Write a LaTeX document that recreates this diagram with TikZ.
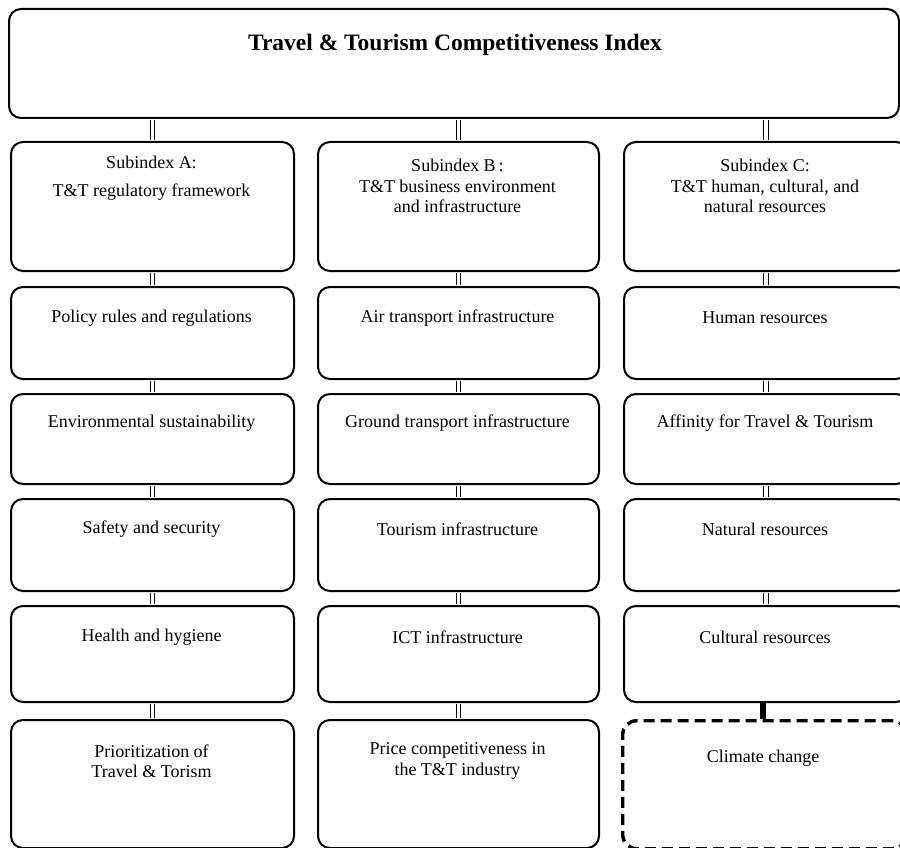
\documentclass[tikz,border=0pt]{standalone}
\usepackage{fontspec}
\setmainfont{Liberation Serif}
\usetikzlibrary{calc}
\begin{document}
\begin{tikzpicture}[x=1pt,y=-1pt,
  box/.style={draw, line width=2pt, rounded corners=12pt, inner sep=0pt, anchor=north west, fill=white},
  dashbox/.style={draw, line width=3.4pt, dash pattern=on 11pt off 6pt, rounded corners=14pt, inner sep=0pt, anchor=north west},
  txt/.style={font=\fontsize{18}{20.5}\selectfont, align=center, inner sep=0pt},
  title/.style={font=\fontsize{23.5}{27}\selectfont\bfseries, inner sep=0pt},
  link/.style={draw=black, line width=5.6pt, postaction={draw=white, line width=3.4pt}},
  solidlink/.style={draw, line width=6pt}]
\useasboundingbox (0,0) rectangle (900,848);
\clip (0,0) rectangle (900,848);
\fill[white] (0,0) rectangle (900,848);

% connectors (drawn first, boxes cover their ends)
\coordinate (topA) at (151.5,117);
\coordinate (topB) at (457.5,117);
\coordinate (topC) at (765,117);

% top box
\node[box, minimum width=890pt, minimum height=109pt] (top) at (8,8) {};
\node[title] (ttop) at (455,45) {Travel \& Tourism Competitiveness Index};

% column A
\node[box, minimum width=283pt, minimum height=129pt] (a1) at (10,141) {};
\node[box, minimum width=283pt, minimum height=92pt]  (a2) at (10,286) {};
\node[box, minimum width=283pt, minimum height=90pt]  (a3) at (10,393) {};
\node[box, minimum width=283pt, minimum height=92pt]  (a4) at (10,498) {};
\node[box, minimum width=283pt, minimum height=96pt]  (a5) at (10,605) {};
\node[box, minimum width=283pt, minimum height=128pt] (a6) at (10,719) {};

% column B
\node[box, minimum width=281pt, minimum height=129pt] (b1) at (317,141) {};
\node[box, minimum width=281pt, minimum height=92pt]  (b2) at (317,286) {};
\node[box, minimum width=281pt, minimum height=90pt]  (b3) at (317,393) {};
\node[box, minimum width=281pt, minimum height=92pt]  (b4) at (317,498) {};
\node[box, minimum width=281pt, minimum height=96pt]  (b5) at (317,605) {};
\node[box, minimum width=281pt, minimum height=128pt] (b6) at (317,719) {};

% column C
\node[box, minimum width=284pt, minimum height=129pt] (c1) at (623,141) {};
\node[box, minimum width=284pt, minimum height=92pt]  (c2) at (623,286) {};
\node[box, minimum width=284pt, minimum height=90pt]  (c3) at (623,393) {};
\node[box, minimum width=284pt, minimum height=92pt]  (c4) at (623,498) {};
\node[box, minimum width=284pt, minimum height=96pt]  (c5) at (623,605) {};
\node[dashbox, minimum width=284pt, minimum height=128pt] (c6) at (621,719) {};

% connectors
\draw[link] ([yshift=-1pt]top.south -| a1.north) -- ([yshift=1pt]a1.north);
\draw[link] ([yshift=-1pt]top.south -| b1.north) -- ([yshift=1pt]b1.north);
\draw[link] ([yshift=-1pt]top.south -| c1.north) -- ([yshift=1pt]c1.north);
\foreach \col in {a,b}{
  \draw[link] ([yshift=-1pt]\col1.south) -- ([yshift=1pt]\col2.north);
  \draw[link] ([yshift=-1pt]\col2.south) -- ([yshift=1pt]\col3.north);
  \draw[link] ([yshift=-1pt]\col3.south) -- ([yshift=1pt]\col4.north);
  \draw[link] ([yshift=-1pt]\col4.south) -- ([yshift=1pt]\col5.north);
  \draw[link] ([yshift=-1pt]\col5.south) -- ([yshift=1pt]\col6.north);
}
\draw[link] ([yshift=-1pt]c1.south) -- ([yshift=1pt]c2.north);
\draw[link] ([yshift=-1pt]c2.south) -- ([yshift=1pt]c3.north);
\draw[link] ([yshift=-1pt]c3.south) -- ([yshift=1pt]c4.north);
\draw[link] ([yshift=-1pt]c4.south) -- ([yshift=1pt]c5.north);
\draw[solidlink] (c5.south -| 763,0) -- (c6.north -| 763,0);

% texts
\node[txt] (ta1) at (151.5,178) {Subindex A:\\[8pt] T\&T regulatory framework};
\node[txt] (ta2) at (151.5,318) {Policy rules and regulations};
\node[txt] (ta3) at (151.5,423) {Environmental sustainability};
\node[txt] (ta4) at (151.5,529) {Safety and security};
\node[txt] (ta5) at (151.5,637) {Health and hygiene};
\node[txt] (ta6) at (151.5,761) {Prioritization of\\ Travel \& Torism};

\node[txt] (tb1) at (457.5,186) {Subindex B\,:\\ T\&T business environment\\ and infrastructure};
\node[txt] (tb2) at (457.5,318) {Air transport infrastructure};
\node[txt] (tb3) at (457.5,423) {Ground transport infrastructure};
\node[txt] (tb4) at (457.5,529) {Tourism infrastructure};
\node[txt] (tb5) at (457.5,637) {ICT infrastructure};
\node[txt] (tb6) at (457.5,761) {Price competitiveness in\\ the T\&T industry};

\node[txt] (tc1) at (765,186) {Subindex C:\\ T\&T human, cultural, and\\ natural resources};
\node[txt] (tc2) at (765,318) {Human resources};
\node[txt] (tc3) at (765,423) {Affinity for Travel \& Tourism};
\node[txt] (tc4) at (765,529) {Natural resources};
\node[txt] (tc5) at (765,637) {Cultural resources};
\node[txt] (tc6) at (763,758) {Climate change};
\end{tikzpicture}
\end{document}
